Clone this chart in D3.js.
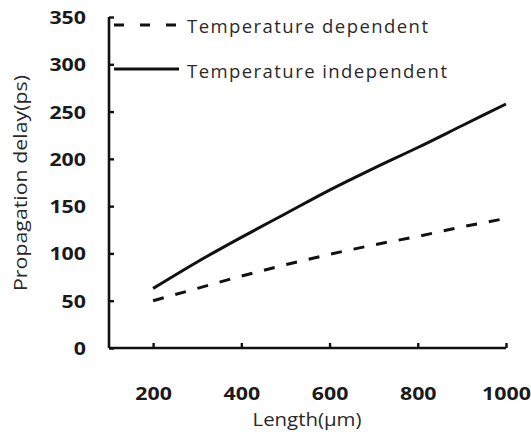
<!DOCTYPE html>
<html>
<head>
<meta charset="utf-8">
<script src="https://cdn.jsdelivr.net/npm/d3@7"></script>
<style>
  html, body { margin: 0; padding: 0; background: #fff; }
  svg { display: block; }
</style>
</head>
<body>
<svg id="chart" width="531" height="432"></svg>
<script>
// Propagation delay vs. interconnect length
const lengths = [200, 300, 400, 500, 600, 700, 800, 900, 1000];
const delayTempDependent = [50, 63, 76, 88, 99, 109, 118, 128, 137];
const delayTempIndependent = [63, 91, 117, 142, 167, 190, 212, 235, 258];
const xTicks = [200, 400, 600, 800, 1000];
const yTicks = [0, 50, 100, 150, 200, 250, 300, 350];
const seriesNames = ["Temperature dependent", "Temperature independent"];
const xTitle = "Length(\u00b5m)";
const yTitle = "Propagation delay(ps)";

const svg = d3.select("#chart");
const plotLeft = 109, plotRight = 506, plotTop = 17, plotBottom = 348;

const x = d3.scaleLinear().domain([100, 1000]).range([plotLeft, plotRight]);
const y = d3.scaleLinear().domain([0, 350]).range([plotBottom, plotTop]);

const uiFont = "'Open Sans', sans-serif";

// Axes with short inward ticks
const yAxis = svg.append("g")
  .attr("transform", `translate(${plotLeft},0)`)
  .call(d3.axisLeft(y).tickValues(yTicks).tickFormat(d3.format("d"))
    .tickSize(-5).tickPadding(23).tickSizeOuter(0));
const xAxis = svg.append("g")
  .attr("transform", `translate(0,${plotBottom})`)
  .call(d3.axisBottom(x).tickValues(xTicks).tickFormat(d3.format("d"))
    .tickSize(-5).tickPadding(0).tickSizeOuter(0));

[yAxis, xAxis].forEach(g => {
  g.select(".domain").attr("stroke", "#111").attr("stroke-width", 2.6);
  g.selectAll(".tick line").attr("stroke", "#111").attr("stroke-width", 2.4);
  g.selectAll(".tick text")
    .attr("fill", "#1a1a1a")
    .attr("font-family", uiFont)
    .attr("font-weight", 700)
    .attr("font-size", 18)
    .each(function () {
      const t = d3.select(this);
      t.attr("textLength", t.text().length * 12.2).attr("lengthAdjust", "spacingAndGlyphs");
    });
});
yAxis.select(".domain").attr("d", `M0,${plotTop}V${plotBottom}`);
xAxis.select(".domain").attr("d", `M${plotLeft},0H${plotRight}`);
xAxis.selectAll(".tick text").attr("y", 52).attr("dy", "0");
yAxis.selectAll(".tick text").attr("dy", "0.36em");

// Series lines
const line = d3.line()
  .x((d, i) => x(lengths[i]))
  .y(d => y(d))
  .curve(d3.curveMonotoneX);

svg.append("path")
  .datum(delayTempIndependent)
  .attr("d", line)
  .attr("fill", "none")
  .attr("stroke", "#111")
  .attr("stroke-width", 3);

svg.append("path")
  .datum(delayTempDependent)
  .attr("d", line)
  .attr("fill", "none")
  .attr("stroke", "#111")
  .attr("stroke-width", 3)
  .attr("stroke-dasharray", "11,12");

// Legend
const legend = svg.append("g");
const legendRows = [
  { name: seriesNames[0], dash: "10,16", ly: 25, ty: 33, w: 241 },
  { name: seriesNames[1], dash: null, ly: 69, ty: 77.5, w: 260 }
];
legendRows.forEach(r => {
  legend.append("line")
    .attr("x1", 114).attr("x2", 179)
    .attr("y1", r.ly).attr("y2", r.ly)
    .attr("stroke", "#111").attr("stroke-width", 3)
    .attr("stroke-dasharray", r.dash);
  legend.append("text")
    .attr("x", 187).attr("y", r.ty)
    .attr("font-family", uiFont)
    .attr("font-size", 18.5)
    .attr("fill", "#2a2a2a")
    .attr("textLength", r.w)
    .attr("lengthAdjust", "spacing")
    .text(r.name);
});

// Axis titles
svg.append("text")
  .attr("x", 307).attr("y", 426)
  .attr("text-anchor", "middle")
  .attr("font-family", uiFont)
  .attr("font-size", 17.5)
  .attr("fill", "#2a2a2a")
  .attr("textLength", 109)
  .attr("lengthAdjust", "spacingAndGlyphs")
  .text(xTitle);

svg.append("text")
  .attr("transform", "translate(27,183) rotate(-90)")
  .attr("text-anchor", "middle")
  .attr("font-family", uiFont)
  .attr("font-size", 17.5)
  .attr("fill", "#2a2a2a")
  .attr("textLength", 216)
  .attr("lengthAdjust", "spacingAndGlyphs")
  .text(yTitle);
</script>
</body>
</html>
